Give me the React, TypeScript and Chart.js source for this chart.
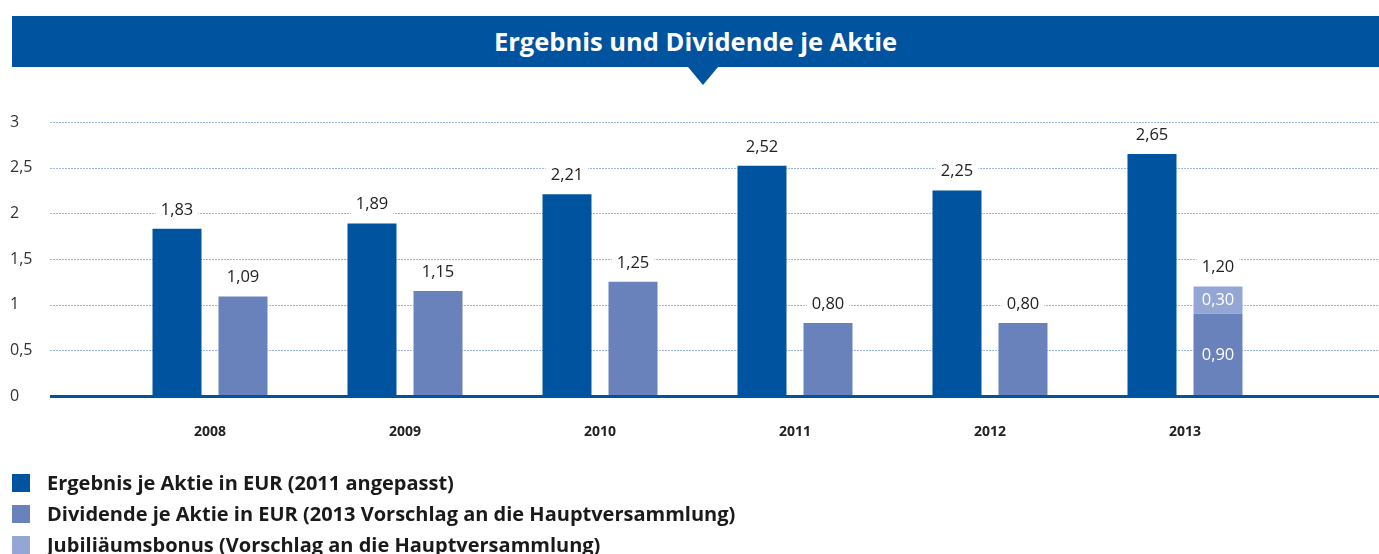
import React, { useEffect, useRef } from "react";
import { Chart, registerables } from "chart.js";

Chart.register(...registerables);

const titleText = "Ergebnis und Dividende je Aktie";
const years = ["2008", "2009", "2010", "2011", "2012", "2013"];
const earnings = [1.83, 1.89, 2.21, 2.52, 2.25, 2.65];
const dividend = [1.09, 1.15, 1.25, 0.8, 0.8, 0.9];
const bonus: (number | null)[] = [null, null, null, null, null, 0.3];
const yTicks = [0, 0.5, 1, 1.5, 2, 2.5, 3];
const seriesNames = [
  "Ergebnis je Aktie in EUR (2011 angepasst)",
  "Dividende je Aktie in EUR (2013 Vorschlag an die Hauptversammlung)",
  "Jubiliäumsbonus (Vorschlag an die Hauptversammlung)",
];
const colors = ["#00539F", "#6A82BC", "#94A7D4"];

const FONT = "'Open Sans', 'Noto Sans', sans-serif";
const fmt = (v: number) => v.toFixed(2).replace(".", ",");
const tickFmt = (v: number) => String(v).replace(".", ",");

const gridPlugin = {
  id: "customGrid",
  beforeDatasetsDraw(chart: any) {
    const ctx = chart.ctx;
    const y = chart.scales.y;
    ctx.save();
    ctx.strokeStyle = "#9BB7DD";
    ctx.lineWidth = 1;
    ctx.setLineDash([2, 1]);
    y.ticks.forEach((t: any) => {
      if (t.value === 0) return;
      const py = Math.round(y.getPixelForValue(t.value)) + 0.5;
      ctx.beginPath();
      ctx.moveTo(50, py);
      ctx.lineTo(chart.width, py);
      ctx.stroke();
    });
    ctx.restore();
  },
  afterDatasetsDraw(chart: any) {
    const ctx = chart.ctx;
    const y = chart.scales.y;
    const drawLabel = (text: string, x: number, cy: number, color: string, bg: boolean) => {
      ctx.font = `16.5px ${FONT}`;
      const w = ctx.measureText(text).width;
      if (bg) {
        ctx.fillStyle = "#ffffff";
        ctx.fillRect(x - w / 2 - 5, cy - 10, w + 10, 20);
      }
      ctx.fillStyle = color;
      ctx.textAlign = "center";
      ctx.textBaseline = "middle";
      ctx.fillText(text, x, cy);
    };
    ctx.save();
    const m0 = chart.getDatasetMeta(0);
    m0.data.forEach((el: any, i: number) => {
      drawLabel(fmt(earnings[i]), el.x, el.y - 19, "#222", true);
    });
    const m1 = chart.getDatasetMeta(1);
    const m2 = chart.getDatasetMeta(2);
    m1.data.forEach((el: any, i: number) => {
      const b = bonus[i];
      if (b == null) {
        drawLabel(fmt(dividend[i]), el.x, el.y - 19, "#222", true);
      } else {
        drawLabel(fmt(dividend[i]), el.x, (el.y + el.base) / 2, "#ffffff", false);
        const e2 = m2.data[i];
        drawLabel(fmt(b), e2.x, (e2.y + e2.base) / 2, "#ffffff", false);
        drawLabel(fmt(dividend[i] + b), e2.x, e2.y - 19, "#222", true);
      }
    });
    const py = y.getPixelForValue(0);
    ctx.fillStyle = "#00539F";
    ctx.fillRect(50, py - 1, chart.width - 50, 3);
    ctx.restore();
  },
};

export default function App() {
  const ref = useRef<HTMLCanvasElement | null>(null);
  useEffect(() => {
    if (!ref.current) return;
    const common = { categoryPercentage: 0.677, barPercentage: 0.742, borderWidth: 0 };
    const chart = new Chart(ref.current, {
      type: "bar",
      data: {
        labels: years,
        datasets: [
          { label: seriesNames[0], data: earnings, backgroundColor: colors[0], stack: "e", ...common },
          { label: seriesNames[1], data: dividend, backgroundColor: colors[1], stack: "d", ...common },
          { label: seriesNames[2], data: bonus, backgroundColor: colors[2], stack: "d", ...common },
        ],
      },
      options: {
        responsive: false,
        animation: false,
        devicePixelRatio: 1,
        layout: { padding: { left: 10, right: 96.5, top: 122, bottom: 118 } },
        plugins: { legend: { display: false }, title: { display: false }, tooltip: { enabled: false } },
        scales: {
          x: {
            stacked: true,
            grid: { display: false, drawTicks: false },
            border: { display: false },
            ticks: { padding: 28, color: "#222", font: { family: FONT, size: 14, weight: "bold" } },
            afterFit: (s: any) => { s.height = 40; },
          },
          y: {
            stacked: true,
            min: 0,
            max: 3,
            afterBuildTicks: (s: any) => { s.ticks = yTicks.map((v) => ({ value: v })); },
            grid: { display: false },
            border: { display: false },
            ticks: {
              crossAlign: "far",
              padding: 0,
              color: "#333",
              font: { family: FONT, size: 16 },
              callback: (v: any) => tickFmt(Number(v)),
            },
            afterFit: (s: any) => { s.width = 102.5; },
          },
        },
      } as any,
      plugins: [gridPlugin],
    });
    return () => chart.destroy();
  }, []);

  return (
    <div style={{ position: "fixed", left: 0, top: 0, width: 1379, height: 554, background: "#fff", overflow: "hidden" }}>
      <canvas ref={ref} width={1379} height={554} style={{ position: "absolute", left: 0, top: 0, width: 1379, height: 554 }} />
      <div
        style={{
          position: "absolute", left: 12, top: 16, width: 1367, height: 51, background: colors[0],
          color: "#fff", textAlign: "center", font: `bold 25.5px ${FONT}`, lineHeight: "51px",
        }}
      >
        {titleText}
      </div>
      <div
        style={{
          position: "absolute", left: 688, top: 67, width: 0, height: 0,
          borderLeft: "15px solid transparent", borderRight: "15px solid transparent",
          borderTop: `18px solid ${colors[0]}`,
        }}
      />
      <div style={{ position: "absolute", left: 12, top: 467 }}>
        {seriesNames.map((n, i) => (
          <div key={n} style={{ display: "flex", alignItems: "center", height: 31 }}>
            <div style={{ width: 18, height: 18, background: colors[i], flex: "none" }} />
            <span style={{ marginLeft: 17, font: `bold 20px ${FONT}`, color: "#1a1a1a", whiteSpace: "nowrap" }}>{n}</span>
          </div>
        ))}
      </div>
    </div>
  );
}
